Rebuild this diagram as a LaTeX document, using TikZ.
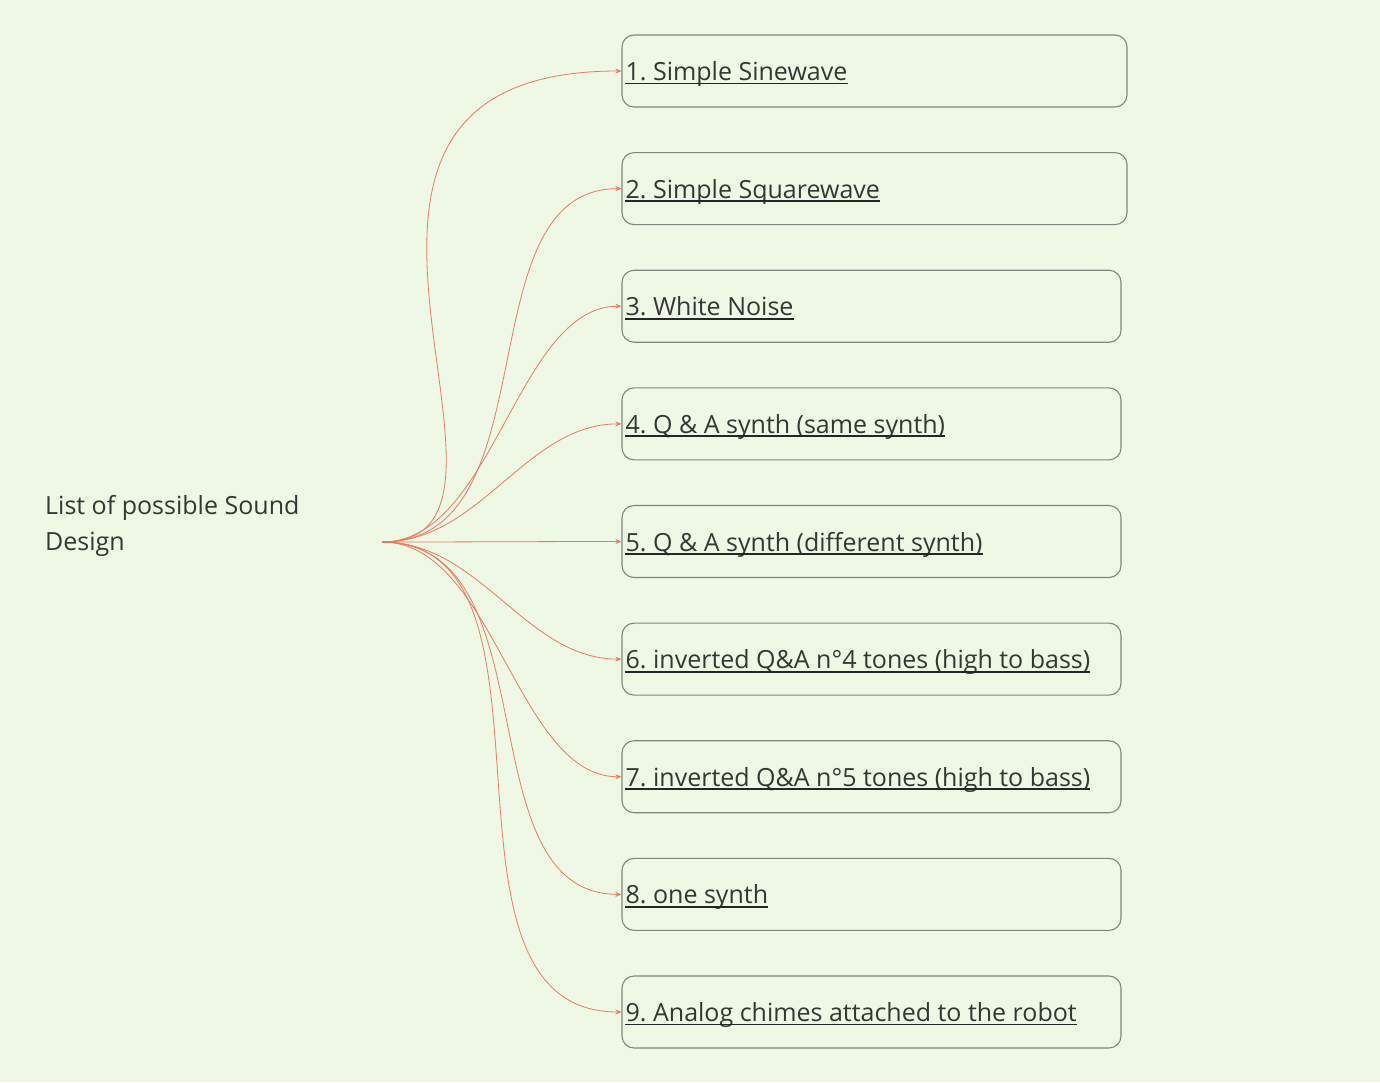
\documentclass[tikz,border=0pt]{standalone}
\usepackage{fontspec}
\setmainfont{Open Sans}
\frenchspacing
\usetikzlibrary{arrows.meta}
\definecolor{bgcol}{RGB}{239,247,229}
\definecolor{linkcol}{RGB}{233,124,94}
\definecolor{boxcol}{RGB}{128,134,126}
\definecolor{txtcol}{RGB}{52,56,52}

\begin{document}
\begin{tikzpicture}[x=1pt,y=-1pt,
		box/.style={draw=boxcol, line width=1.1pt, rounded corners=12pt, minimum height=72pt, inner sep=0pt},
		itemtext/.style={inner sep=0pt, text=txtcol, font=\fontsize{25}{30}\selectfont},
		roottext/.style={inner sep=0pt, text=txtcol, align=left, font=\fontsize{25}{36}\selectfont},
		link/.style={draw=linkcol, line width=0.8pt, -{Stealth[length=6pt,width=5pt]}},
		uline/.style={draw=black!85, line width=1.8pt}]
		\fill[bgcol] (0,0) rectangle (1380,1082);
		\useasboundingbox (0,0) rectangle (1380,1082);

		\node[roottext, anchor=base west] (root) at (45,550) {List of possible Sound\\Design};
		\coordinate (hub) at (382,542);

		\foreach \i/\w/\a/\b/\txt in {1/505/190/380/{1. Simple Sinewave},
				2/505/172/159/{2. Simple Squarewave},
				3/499/112/105/{3. White Noise},
				4/499/99/96/{4. Q \& A synth (same synth)},
				5/499/80/80/{5. Q \& A synth (different synth)},
				6/499/99/96/{6. inverted Q\&A n°4 tones (high to bass)},
				7/499/112/105/{7. inverted Q\&A n°5 tones (high to bass)},
				8/499/172/159/{8. one synth},
				9/499/200/209/{9. Analog chimes attached to the robot}} {
			\node[box, minimum width=\w pt] (b\i) at (622+\w/2, 71+117.625*\i-117.625) {};
			\node[itemtext, anchor=base west] (t\i) at ([xshift=4pt,yshift=-9.5pt]b\i.west) {\txt};
			\draw[uline] ([yshift=-3pt]t\i.base west) -- ([yshift=-3pt]t\i.base east);
			\draw[link] (hub) .. controls +(\a,0) and +(-\b,0) .. (b\i.west);
		}
\end{tikzpicture}
\end{document}
